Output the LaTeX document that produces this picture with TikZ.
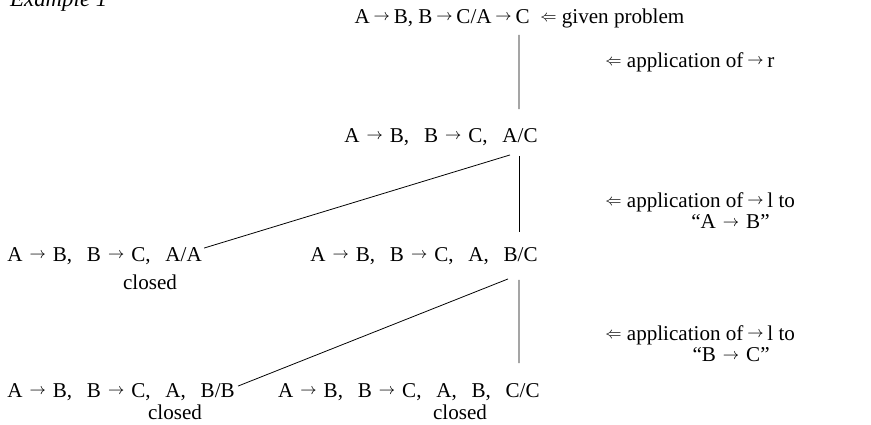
\documentclass[tikz,border=0pt]{standalone}
\usepackage{fontspec}
\setmainfont{Liberation Serif}
\usepackage{tikz}
\usetikzlibrary{calc}
\newcommand{\arrglyph}{\raisebox{1.5pt}{\fontsize{9}{10}\selectfont$\rightarrow$}}
\newcommand{\seqarr}{\hspace{4pt}\arrglyph\hspace{4pt}}
\newcommand{\tarr}{\hspace{2.2pt}\arrglyph\hspace{2.2pt}}
\newcommand{\appl}{\raisebox{1pt}{\fontsize{9}{10}\selectfont$\Leftarrow$}}
\newcommand{\sqsep}{,\hspace{0.7em}}

\begin{document}
\begin{tikzpicture}[
    seq/.style={font=\fontsize{12}{14}\selectfont, inner sep=0pt},
    note/.style={font=\fontsize{12}{14}\selectfont, inner sep=0pt},
    rule/.style={line width=0.45pt}
  ]
  \useasboundingbox (0,0) rectangle (17.42,-8.5);
  \node[font=\fontsize{13}{15}\selectfont\itshape, anchor=base west] (title) at (0.08,-0.14) {Example 1};
  % sequents
  \node[seq, anchor=east] (n0) at (10.6,-0.36) {A\tarr B, B\tarr C/A\tarr C};
  \node[seq, anchor=east] (n1) at (10.76,-2.74) {A\seqarr B\sqsep B\seqarr C\sqsep A/C};
  \node[seq, anchor=west] (n2) at (0.14,-5.12) {A\seqarr B\sqsep B\seqarr C\sqsep A/A};
  \node[seq, anchor=east] (n3) at (10.76,-5.12) {A\seqarr B\sqsep B\seqarr C\sqsep A\sqsep B/C};
  \node[seq, anchor=west] (n4) at (0.14,-7.84) {A\seqarr B\sqsep B\seqarr C\sqsep A\sqsep B/B};
  \node[seq, anchor=east] (n5) at (10.8,-7.84) {A\seqarr B\sqsep B\seqarr C\sqsep A\sqsep B\sqsep C/C};
  \node[note] (c2) at (3.0,-5.64) {closed};
  \node[note] (c4) at (3.5,-8.24) {closed};
  \node[note] (c5) at (9.2,-8.24) {closed};
  % comments
  \node[note, anchor=west] (g0) at (10.8,-0.36) {\appl{} given problem};
  \node[note, anchor=west] (g1) at (12.1,-1.24) {\appl{} application of\tarr r};
  \node[note, anchor=west] (g2) at (12.1,-4.04) {\appl{} application of\tarr l to};
  \node[note, anchor=east] (g2b) at (15.4,-4.44) {“A\seqarr B”};
  \node[note, anchor=west] (g3) at (12.1,-6.7) {\appl{} application of\tarr l to};
  \node[note, anchor=east] (g3b) at (15.4,-7.1) {“B\seqarr C”};
  % branches
  \draw[rule] ($(n0.south east)+(-0.22,-0.16)$) -- ($(n1.north east)+(-0.38,0.38)$);
  \draw[rule] ($(n1.south east)+(-0.38,-0.2)$) -- ($(n3.north east)+(-0.38,0.3)$);
  \draw[rule] ($(n1.south east)+(-0.56,-0.18)$) -- ($(n2.north east)+(0.04,-0.02)$);
  \draw[rule] ($(n3.south east)+(-0.38,-0.3)$) -- ($(n5.north east)+(-0.42,0.4)$);
  \draw[rule] ($(n3.south east)+(-0.6,-0.28)$) -- ($(n4.north east)+(0.06,-0.06)$);
\end{tikzpicture}
\end{document}
